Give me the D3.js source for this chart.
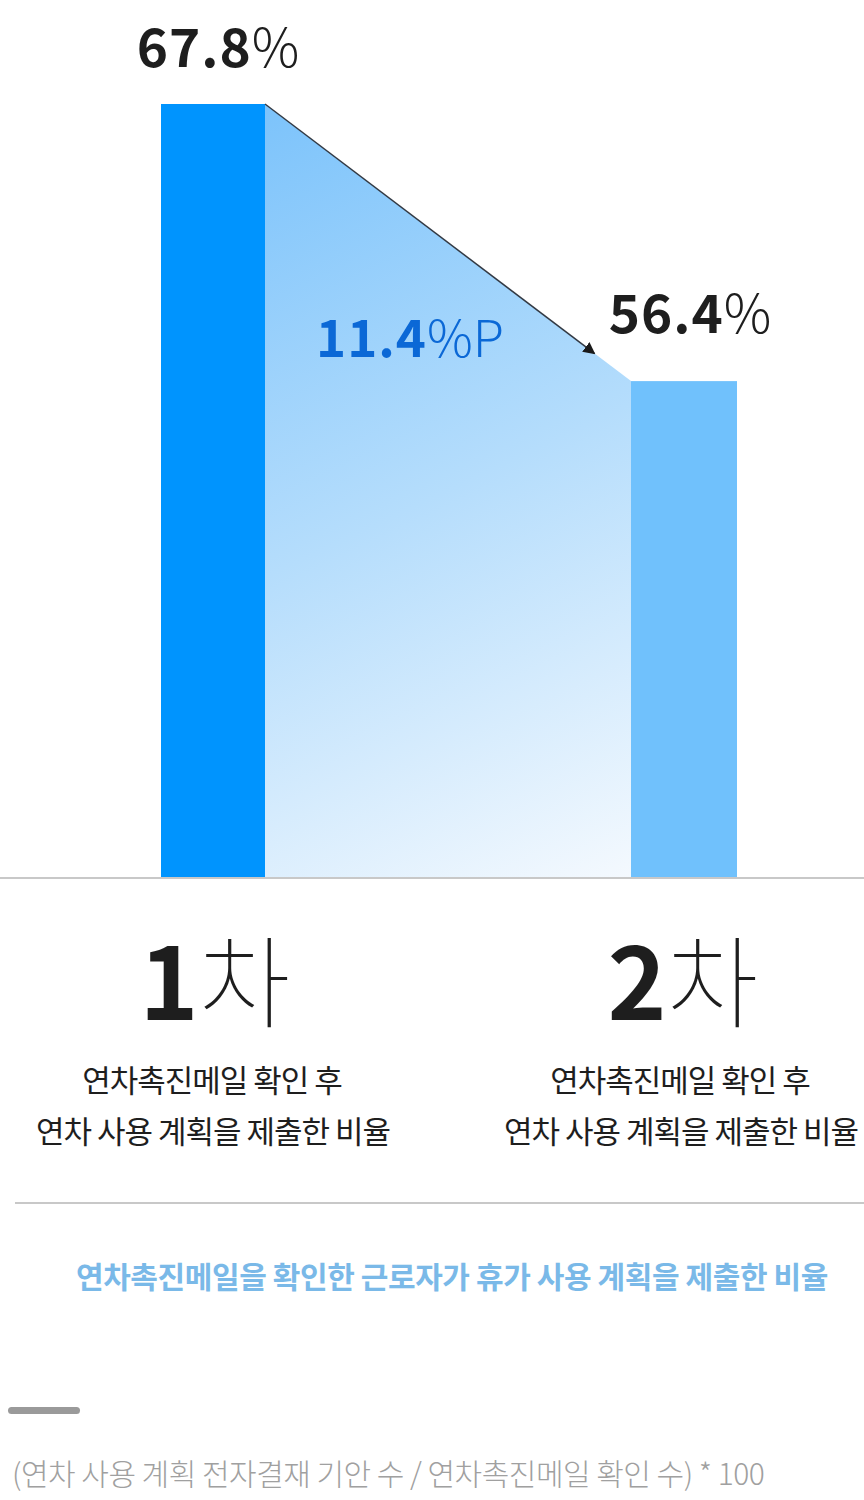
<!DOCTYPE html>
<html><head><meta charset="utf-8">
<script src="https://cdn.jsdelivr.net/npm/d3@7"></script>
<style>html,body{margin:0;padding:0;background:#fff;}svg{display:block;}</style>
</head><body>
<script>
const categories = ["1차", "2차"];
const values = [67.8, 56.4];
const diffLabel = "11.4";
const subLabel1 = "연차촉진메일 확인 후";
const subLabel2 = "연차 사용 계획을 제출한 비율";
const caption = "연차촉진메일을 확인한 근로자가 휴가 사용 계획을 제출한 비율";
const footnote = "(연차 사용 계획 전자결재 기안 수 / 연차촉진메일 확인 수) * 100";

const W = 864, H = 1500;
const FONT = "'Noto Sans CJK KR','Noto Sans',sans-serif";
const svg = d3.select("body").append("svg").attr("width", W).attr("height", H);

const baseY = 877;
const y = d3.scaleLinear().domain([36, 67.8]).range([baseY, 104]);
const x = d3.scaleOrdinal().domain(categories).range([161, 631]);
const barW = [104, 106];
const colors = ["#0094fe", "#70c1fc"];

const defs = svg.append("defs");
const grad = defs.append("linearGradient").attr("id", "g").attr("gradientUnits", "userSpaceOnUse")
  .attr("x1", 265).attr("y1", 104).attr("x2", 631).attr("y2", 877);
grad.append("stop").attr("offset", 0).attr("stop-color", "#7cc3fb");
grad.append("stop").attr("offset", 0.5).attr("stop-color", "#b5ddfc");
grad.append("stop").attr("offset", 1).attr("stop-color", "#f4f9fe");
defs.append("marker").attr("id", "arr").attr("viewBox", "0 0 10 10").attr("refX", 9).attr("refY", 5)
  .attr("markerWidth", 12).attr("markerHeight", 12).attr("markerUnits", "userSpaceOnUse").attr("orient", "auto")
  .append("path").attr("d", "M0,0 L10,5 L0,10 z").attr("fill", "#1a1a1a");

// gradient area between bars
const x1r = x(categories[0]) + barW[0];
const x2l = x(categories[1]);
svg.append("path")
  .attr("d", `M${x1r},${y(values[0])} L${x2l},${y(values[1])} L${x2l},${baseY} L${x1r},${baseY} Z`)
  .attr("fill", "url(#g)");

// bars
svg.selectAll("rect.bar").data(categories).enter().append("rect")
  .attr("x", d => x(d)).attr("y", (d, i) => y(values[i]))
  .attr("width", (d, i) => barW[i]).attr("height", (d, i) => baseY - y(values[i]))
  .attr("fill", (d, i) => colors[i]);

// arrow along slope
const t = 0.9;
const ax2 = x1r + (x2l - x1r) * t, ay2 = y(values[0]) + (y(values[1]) - y(values[0])) * t;
svg.append("line").attr("x1", x1r).attr("y1", y(values[0])).attr("x2", ax2).attr("y2", ay2)
  .attr("stroke", "#333a44").attr("stroke-width", 1.5).attr("marker-end", "url(#arr)");

// value labels
const valX = [218, 690];
const valOff = [37, 48];
values.forEach((v, i) => {
  const tx = svg.append("text").attr("x", valX[i]).attr("y", y(v) - valOff[i])
    .attr("text-anchor", "middle").attr("font-family", FONT).attr("fill", "#1e1e1e").attr("font-size", 53);
  tx.append("tspan").attr("font-weight", 700).attr("letter-spacing", 1).text(v.toFixed(1));
  tx.append("tspan").attr("font-weight", 300).text("%");
});

// diff label
const dl = svg.append("text").attr("x", 410).attr("y", 357).attr("text-anchor", "middle")
  .attr("font-family", FONT).attr("font-size", 51).attr("fill", "#0b68d6");
dl.append("tspan").attr("font-weight", 700).attr("letter-spacing", 1).text(diffLabel);
dl.append("tspan").attr("font-weight", 300).text("%P");

// axis line
svg.append("line").attr("x1", 0).attr("x2", W).attr("y1", baseY + 1).attr("y2", baseY + 1)
  .attr("stroke", "#c8c8c8").attr("stroke-width", 2);

// category labels
const catX = [215, 683];
categories.forEach((c, i) => {
  const tx = svg.append("text").attr("x", catX[i]).attr("y", 1020).attr("text-anchor", "middle")
    .attr("font-family", FONT).attr("font-size", 100).attr("fill", "#1e1e1e");
  tx.append("tspan").attr("font-weight", 700).text(c.slice(0, 1));
  tx.append("tspan").attr("font-weight", 100).text(c.slice(1));
  svg.append("text").attr("x", catX[i] - 3).attr("y", 1092).attr("text-anchor", "middle")
    .attr("font-family", FONT).attr("font-size", 31).attr("font-weight", 400).attr("letter-spacing", -1)
    .attr("fill", "#1e1e1e").text(subLabel1);
  svg.append("text").attr("x", catX[i] - 2).attr("y", 1143).attr("text-anchor", "middle")
    .attr("font-family", FONT).attr("font-size", 31).attr("font-weight", 400).attr("letter-spacing", -1)
    .attr("fill", "#1e1e1e").text(subLabel2);
});

// separator
svg.append("line").attr("x1", 15).attr("x2", W).attr("y1", 1203).attr("y2", 1203)
  .attr("stroke", "#c8c8c8").attr("stroke-width", 2);

// caption
svg.append("text").attr("x", 452).attr("y", 1288).attr("text-anchor", "middle")
  .attr("font-family", FONT).attr("font-size", 30).attr("font-weight", 700).attr("letter-spacing", -0.4)
  .attr("fill", "#7ab9e8").text(caption);

// pill
svg.append("rect").attr("x", 8).attr("y", 1407).attr("width", 72).attr("height", 7).attr("rx", 3.5)
  .attr("fill", "#9a9a9a");

// footnote
svg.append("text").attr("x", 12).attr("y", 1485).attr("text-anchor", "start")
  .attr("font-family", FONT).attr("font-size", 30).attr("font-weight", 300).attr("letter-spacing", -0.5)
  .attr("fill", "#a0a0a0").text(footnote);
</script>
</body></html>
